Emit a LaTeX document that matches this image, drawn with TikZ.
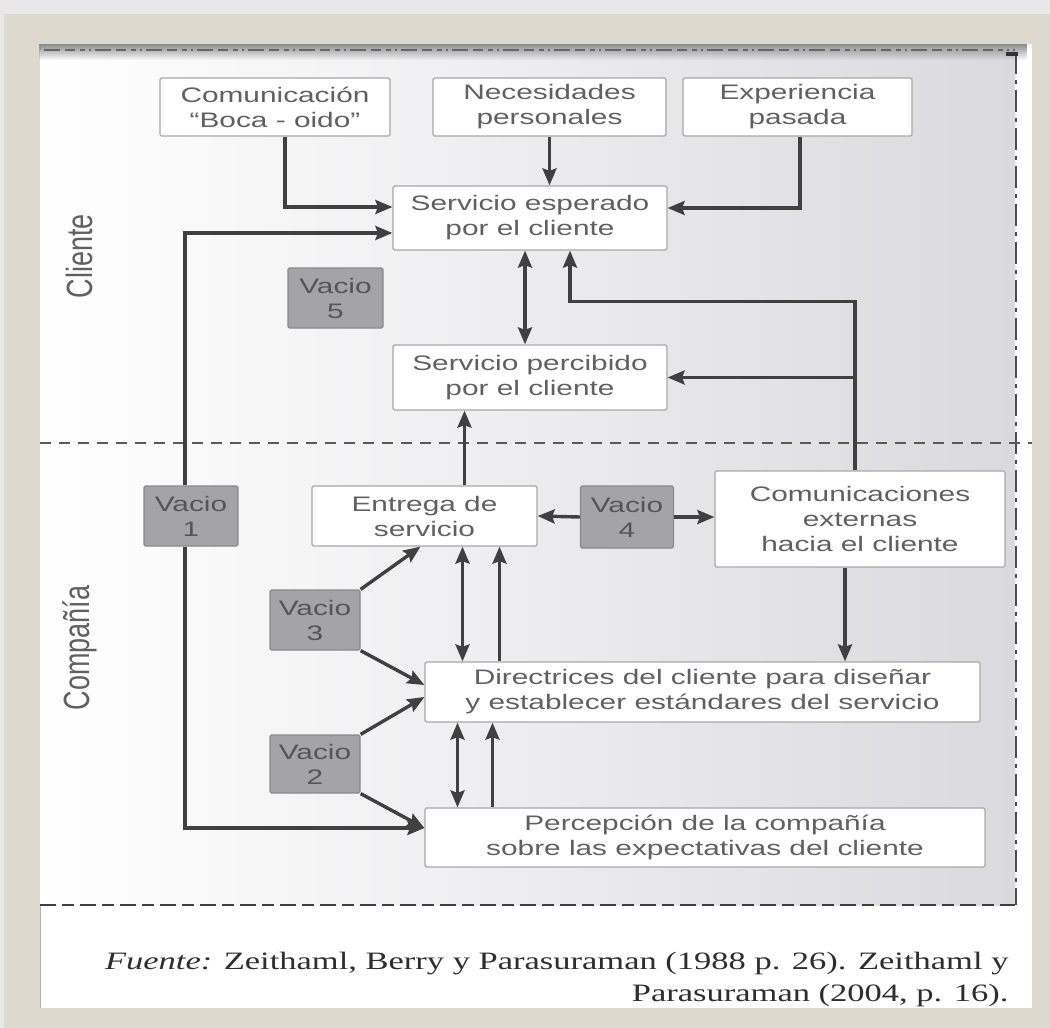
\documentclass[tikz,border=0pt]{standalone}
\usepackage{fontspec}
\usepackage{graphicx}
\usetikzlibrary{arrows.meta,fadings}
\newfontfamily\diagfont[FakeStretch=1.42]{Liberation Sans}
\newfontfamily\sidefont{Liberation Sans}
\newfontfamily\notefont[FakeStretch=1.38]{Liberation Serif}
\definecolor{framebg}{HTML}{DDD9CF}
\definecolor{topbg}{HTML}{E8E8E8}
\definecolor{shadeR}{HTML}{DADADE}
\definecolor{boxline}{HTML}{A8A8A8}
\definecolor{txt}{HTML}{606060}
\definecolor{gapfill}{HTML}{A4A4A6}
\definecolor{gapline}{HTML}{8A8A8A}
\definecolor{gaptxt}{HTML}{555555}
\definecolor{arrc}{HTML}{404040}
\definecolor{notetxt}{HTML}{2E2E2E}
\begin{document}
\begin{tikzpicture}[x=1pt,y=-1pt,
  box/.style={draw=boxline, fill=white, line width=1.2pt, rounded corners=1.5pt,
    align=center, text=txt, inner sep=0pt,
    font=\diagfont\fontsize{21}{25}\selectfont},
  gapbox/.style={box, fill=gapfill, draw=gapline, text=gaptxt},
  tip/.tip={Stealth[length=17pt,width=14pt,inset=2.5pt]},
  arr/.style={line width=3.4pt, draw=arrc, -tip},
  darr/.style={line width=3.4pt, draw=arrc, tip-tip},
  side/.style={text=txt, font=\sidefont\fontsize{27}{30}\selectfont, rotate=90}
]
\useasboundingbox (0,0) rectangle (1050,1028);

% frame and panel
\fill[topbg] (0,0) rectangle (1050,1028);
\fill[framebg] (4,14) rectangle (1050,1028);
\fill[white] (40,44) rectangle (1032,1008);
\draw[gray!60, line width=1pt] (40,44) -- (40,1008);

% shaded diagram area
\shade[left color=white, right color=shadeR] (40,50) rectangle (1015,905);
\fill[black!45, path fading=south] (40,44) rectangle (1030,60);

% borders of the diagram area
\draw[black!60, line width=1.6pt, dash pattern=on 16pt off 5pt on 10pt off 5pt on 5pt off 4pt on 2pt off 4pt]
  (44,50) -- (1015,50);
\draw[black!75, line width=2.2pt, dash pattern=on 16pt off 6pt on 12pt off 6pt] (40,905) -- (1015,905);
\draw[black!70, line width=2.2pt, dash pattern=on 22pt off 6pt on 4pt off 6pt] (1016,52) -- (1016,905);
\draw[black!80, line width=4pt] (1006,54) -- (1018,54);

% client / company separator
\draw[black!65, line width=2pt, dash pattern=on 11pt off 8pt] (40,443) -- (1032,443);

% side labels
\node[side] (cli) at (79,256) {\scalebox{1}[1.35]{Cliente}};
\node[side] (cia) at (80,648) {\scalebox{1}[1.35]{Compañía}};

% boxes
\node[box, minimum width=230, minimum height=58] (com) at (275,107) {Comunicación\\“Boca - oido”};
\node[box, minimum width=233, minimum height=58] (nec) at (549.5,107) {Necesidades\\personales};
\node[box, minimum width=229, minimum height=58] (exp) at (797.5,107) {Experiencia\\pasada};
\node[box, minimum width=274, minimum height=64] (esp) at (530,218) {Servicio esperado\\por el cliente};
\node[gapbox, minimum width=95, minimum height=60] (v5) at (335.5,298) {Vacio\\5};
\node[box, minimum width=274, minimum height=65] (per) at (530,377.5) {Servicio percibido\\por el cliente};
\node[gapbox, minimum width=94, minimum height=60] (v1) at (191,516) {Vacio\\1};
\node[box, minimum width=225, minimum height=60] (ent) at (424.5,516) {Entrega de\\servicio};
\node[gapbox, minimum width=93, minimum height=62] (v4) at (627,517) {Vacio\\4};
\node[box, minimum width=290, minimum height=96] (ext) at (860,519) {Comunicaciones\\externas\\hacia el cliente};
\node[gapbox, minimum width=90, minimum height=60] (v3) at (315,620) {Vacio\\3};
\node[box, minimum width=555, minimum height=60] (dir) at (702.5,692) {Directrices del cliente para diseñar\\y establecer estándares del servicio};
\node[gapbox, minimum width=90, minimum height=58] (v2) at (315,764) {Vacio\\2};
\node[box, minimum width=560, minimum height=59] (pcp) at (705,837.5) {Percepción de la compañía\\sobre las expectativas del cliente};

% connectors into the expected service
\draw[arr] ([xshift=10pt]com.south) |- ([yshift=11pt]esp.west);
\draw[arr] (nec.south) -- (nec.south |- esp.north);
\draw[arr] ([xshift=2.5pt]exp.south) |- ([yshift=10pt]esp.east);
\draw[arr] ([xshift=-6pt]v1.north) |- ([yshift=-15pt]esp.west);
\draw[arr] ([xshift=-6pt]v1.south) |- ([yshift=9.5pt]pcp.west);

% expected vs perceived
\draw[darr] ([xshift=-5pt]esp.south) -- ([xshift=-5pt]per.north);

% external communications
\draw[arr] ([xshift=-5pt]ext.north) -- ++(0,-169) -| ([xshift=40pt]esp.south);
\draw[arr] ([xshift=-5pt]ext.north |- per.east) -- (per.east);
\draw[arr] ([xshift=-15pt]ext.south) -- ([xshift=-15pt]ext.south |- dir.north);

% delivery
\draw[arr] ([xshift=40pt]ent.north) -- ([xshift=40pt]ent.north |- per.south);
\draw[arr] (v4.west) -- (ent.east);
\draw[arr] (v4.east) -- (ext.west |- v4.east);

% gap 3
\draw[arr] (v3.north east) -- ([xshift=-4pt]ent.south);
\draw[arr] (v3.south east) -- ([yshift=7pt]dir.west);
\draw[darr] ([xshift=38pt]ent.south) -- ([xshift=38pt]ent.south |- dir.north);
\draw[arr] ([xshift=75pt]ent.south |- dir.north) -- ([xshift=75pt]ent.south);

% gap 2
\draw[arr] (v2.north east) -- ([yshift=-5pt]dir.west);
\draw[arr] (v2.south east) -- ([yshift=9.5pt]pcp.west);
\draw[darr] ([xshift=-245pt]dir.south) -- ([xshift=-245pt]dir.south |- pcp.north);
\draw[arr] ([xshift=-210pt]dir.south |- pcp.north) -- ([xshift=-210pt]dir.south);

% source
\node[anchor=east, align=right, text=notetxt, font=\notefont\fontsize{25}{32}\selectfont]
  (src) at (1012,979) {\textit{Fuente:} Zeithaml, Berry y Parasuraman (1988 p. 26). Zeithaml y\\Parasuraman (2004, p. 16).};
\end{tikzpicture}
\end{document}
